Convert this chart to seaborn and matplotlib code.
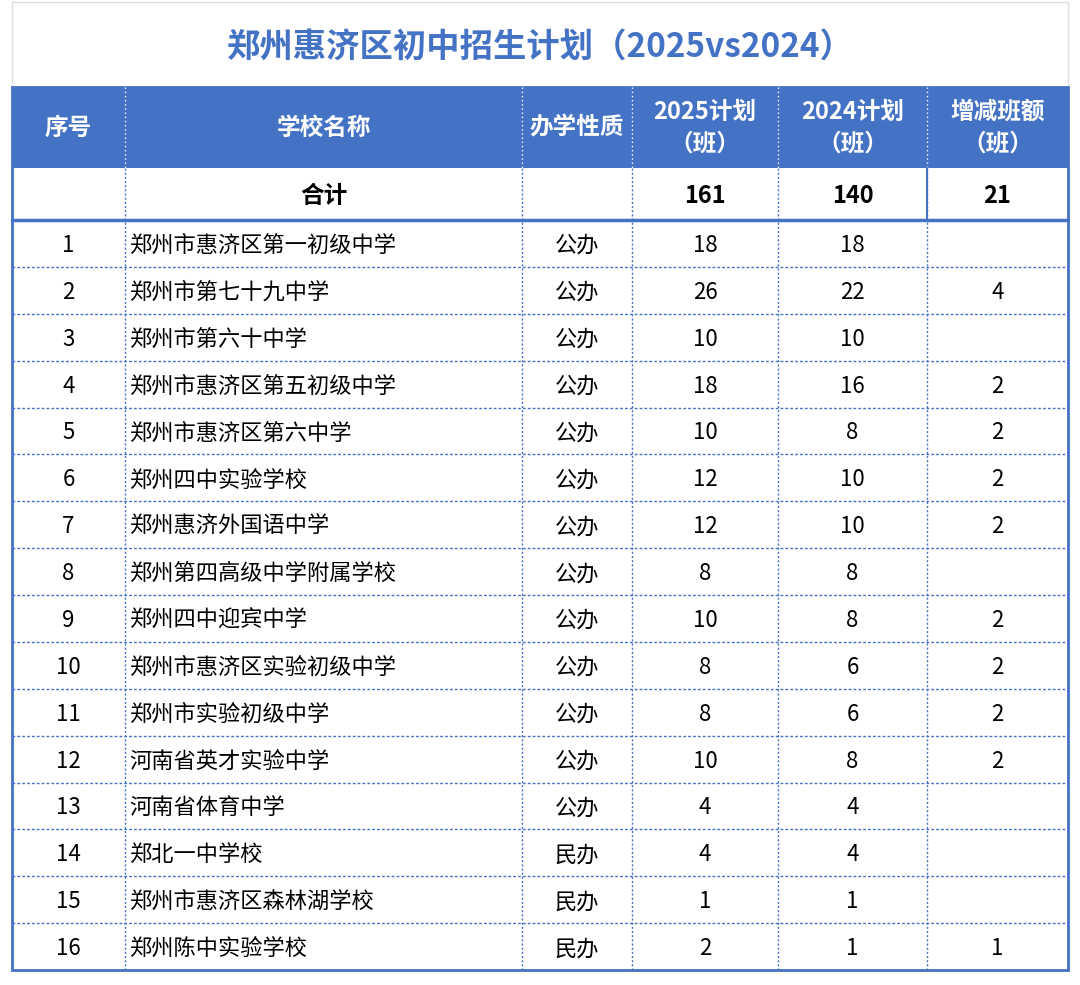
import matplotlib
matplotlib.use("Agg")
import matplotlib.pyplot as plt
import seaborn as sns
from matplotlib.patches import Rectangle

sns.set_theme(style="white")
plt.rcParams["font.family"] = ["Noto Sans CJK SC", "DejaVu Sans"]

TITULO = "郑州惠济区初中招生计划（2025vs2024）"
CABECALHO = ["序号", "学校名称", "办学性质", "2025计划\n（班）", "2024计划\n（班）", "增减班额\n（班）"]
TOTAL = ["", "合计", "", "161", "140", "21"]

ESCOLAS = [
    "郑州市惠济区第一初级中学", "郑州市第七十九中学", "郑州市第六十中学", "郑州市惠济区第五初级中学",
    "郑州市惠济区第六中学", "郑州四中实验学校", "郑州惠济外国语中学", "郑州第四高级中学附属学校",
    "郑州四中迎宾中学", "郑州市惠济区实验初级中学", "郑州市实验初级中学", "河南省英才实验中学",
    "河南省体育中学", "郑北一中学校", "郑州市惠济区森林湖学校", "郑州陈中实验学校",
]
NATUREZA = ["公办"] * 13 + ["民办"] * 3
PLANO_2025 = [18, 26, 10, 18, 10, 12, 12, 8, 10, 8, 8, 10, 4, 4, 1, 2]
PLANO_2024 = [18, 22, 10, 16, 8, 10, 10, 8, 8, 6, 6, 8, 4, 4, 1, 1]
VARIACAO = [None, 4, None, 2, 2, 2, 2, None, 2, 2, 2, 2, None, None, None, 1]

AZUL = "#4472C4"
COLS = [12, 125, 522, 632, 778, 927, 1068]
Y_CAB, Y_TOT, Y_DADOS, Y_FIM = 87, 168, 220, 970
ALT = (Y_FIM - Y_DADOS) / len(ESCOLAS)

fig = plt.figure(figsize=(10.8, 9.85), dpi=100)
ax = fig.add_axes([0, 0, 1, 1])
ax.set_xlim(0, 1080)
ax.set_ylim(985, 0)
ax.axis("off")

# titulo
ax.add_patch(Rectangle((12, 2), COLS[-1] - 12, Y_CAB - 2, fill=False, ec="#dddddd", lw=1))
ax.text(540, 48, TITULO, ha="center", va="center", fontsize=24, fontweight="bold", color=AZUL)

# cabecalho
ax.add_patch(Rectangle((12, Y_CAB), COLS[-1] - 12, Y_TOT - Y_CAB, color=AZUL, lw=0))
for i, txt in enumerate(CABECALHO):
    xc = (COLS[i] + COLS[i + 1]) / 2
    ax.text(xc, (Y_CAB + Y_TOT) / 2, txt, ha="center", va="center", fontsize=17,
            fontweight="bold", color="white", linespacing=1.4)
for x in COLS[1:-1]:
    ax.plot([x, x], [Y_CAB, Y_TOT], color="white", lw=1, ls=(0, (1, 2)))

# linha total
for i, txt in enumerate(TOTAL):
    xc = (COLS[i] + COLS[i + 1]) / 2
    ax.text(xc, (Y_TOT + Y_DADOS) / 2 + 2, txt, ha="center", va="center", fontsize=17,
            fontweight="bold", color="black")

# dados
for r in range(len(ESCOLAS)):
    yc = Y_DADOS + ALT * (r + 0.5) + 2
    valores = [str(r + 1), ESCOLAS[r], NATUREZA[r], str(PLANO_2025[r]), str(PLANO_2024[r]),
               "" if VARIACAO[r] is None else str(VARIACAO[r])]
    for i, txt in enumerate(valores):
        if i == 1:
            ax.text(COLS[1] + 4, yc, txt, ha="left", va="center", fontsize=16, color="black")
        else:
            ax.text((COLS[i] + COLS[i + 1]) / 2, yc, txt, ha="center", va="center",
                    fontsize=16, color="black")

# grade pontilhada
for r in range(1, len(ESCOLAS)):
    y = Y_DADOS + ALT * r
    ax.plot([12, COLS[-1]], [y, y], color=AZUL, lw=1, ls=(0, (2, 1.5)))
for x in COLS[1:-1]:
    ax.plot([x, x], [Y_TOT, Y_FIM], color=AZUL, lw=1, ls=(0, (1.5, 1.5)))
ax.plot([COLS[5], COLS[5]], [Y_TOT, Y_DADOS], color=AZUL, lw=1.5)
ax.plot([12, COLS[-1]], [Y_DADOS, Y_DADOS], color=AZUL, lw=2.5)

# borda externa
ax.add_patch(Rectangle((12, Y_CAB), COLS[-1] - 12, Y_FIM - Y_CAB, fill=False, ec=AZUL, lw=2))

fig.savefig("out.png", dpi=100, facecolor="white")
